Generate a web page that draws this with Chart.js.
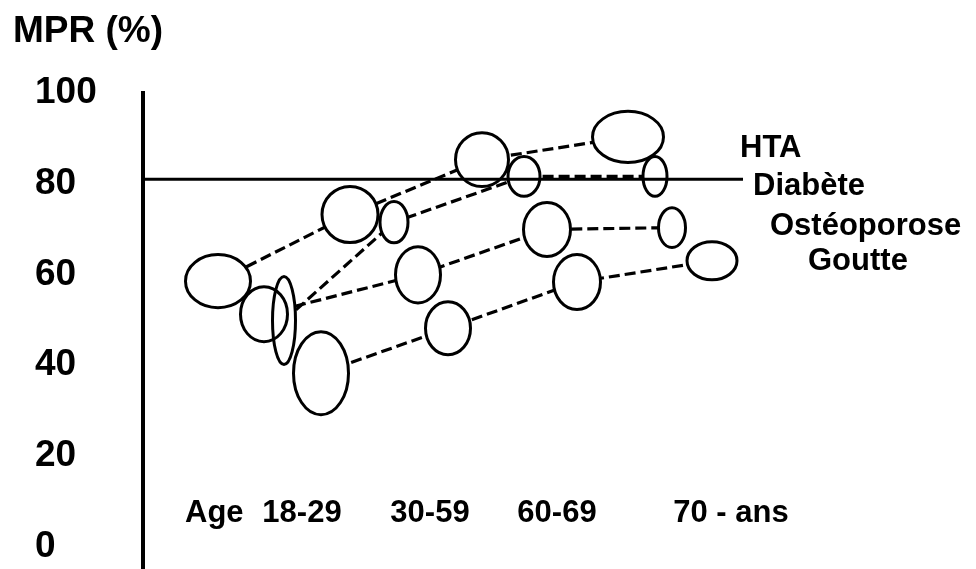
<!DOCTYPE html>
<html>
<head>
<meta charset="utf-8">
<script src="https://cdn.jsdelivr.net/npm/chart.js@4.4.1/dist/chart.umd.min.js"></script>
<style>
  html, body { margin: 0; background: #fff; }
  #wrap { width: 976px; height: 569px; }
</style>
</head>
<body>
<div id="wrap"><canvas id="c"></canvas></div>
<script>
// MPR (%) by age group, four conditions. Ellipse width/height are spreads in data units.
const SERIES = ['HTA', 'Diabète', 'Ostéoporose', 'Goutte'];
const AGE_LABELS = ['18-29', '30-59', '60-69', '70 - ans'];
const AGE_POS = [1.59, 2.87, 4.14, 5.88];
const Y_TICKS = [0, 20, 40, 60, 80, 100];
const TARGET = 81;

const HTA_X = [0.75, 2.07, 3.39, 4.85];
const HTA_Y = [58.5, 73.2, 85.3, 90.3];
const HTA_W = [0.65, 0.56, 0.53, 0.71];
const HTA_H = [11.7, 12.4, 11.9, 11.3];

const DIAB_X = [1.41, 2.51, 3.81, 5.12];
const DIAB_Y = [49.8, 71.5, 81.6, 81.6];
const DIAB_W = [0.23, 0.28, 0.32, 0.24];
const DIAB_H = [19.4, 9.1, 8.8, 8.8];

const OSTEO_X = [1.21, 2.75, 4.04, 5.29];
const OSTEO_Y = [51.2, 59.9, 69.9, 70.3];
const OSTEO_W = [0.47, 0.45, 0.47, 0.27];
const OSTEO_H = [12.1, 12.4, 11.9, 8.8];

const GOUT_X = [1.78, 3.05, 4.34, 5.69];
const GOUT_Y = [38.2, 48.1, 58.3, 63.0];
const GOUT_W = [0.55, 0.45, 0.47, 0.50];
const GOUT_H = [18.3, 11.7, 12.1, 8.4];

const FONT = "'Liberation Sans', Arial, sans-serif";

function points(xs, ys) {
  return xs.map((x, i) => ({ x, y: ys[i] }));
}

function series(label, xs, ys, w, h) {
  return {
    label,
    data: points(xs, ys),
    ellW: w,
    ellH: h,
    showLine: true,
    borderColor: '#000',
    borderWidth: 3.2,
    borderDash: [11, 5],
    pointRadius: 0,
    fill: false,
  };
}

// ellipses are hollow: white-out the dashed lines inside, then outline, then the 81% line on top
const overlay = {
  id: 'overlay',
  afterDatasetsDraw(chart) {
    const { ctx, chartArea, scales: { x, y } } = chart;
    const shapes = [];
    chart.data.datasets.forEach((ds, i) => {
      chart.getDatasetMeta(i).data.forEach((pt, j) => {
        const d = ds.data[j];
        const rx = Math.abs(x.getPixelForValue(d.x + ds.ellW[j] / 2) - pt.x);
        const ry = Math.abs(y.getPixelForValue(d.y + ds.ellH[j] / 2) - pt.y);
        shapes.push([pt.x, pt.y, rx, ry]);
      });
    });
    ctx.save();
    ctx.fillStyle = '#fff';
    shapes.forEach(([cx, cy, rx, ry]) => {
      ctx.beginPath();
      ctx.ellipse(cx, cy, rx, ry, 0, 0, Math.PI * 2);
      ctx.fill();
    });
    ctx.strokeStyle = '#000';
    ctx.lineWidth = 3;
    shapes.forEach(([cx, cy, rx, ry]) => {
      ctx.beginPath();
      ctx.ellipse(cx, cy, rx, ry, 0, 0, Math.PI * 2);
      ctx.stroke();
    });

    const yT = y.getPixelForValue(TARGET);
    ctx.beginPath();
    ctx.moveTo(chartArea.left, yT);
    ctx.lineTo(chartArea.right, yT);
    ctx.stroke();

    ctx.fillStyle = '#000';
    ctx.textBaseline = 'alphabetic';

    // series names, stepped to the right of the target line
    ctx.font = `bold 31px ${FONT}`;
    ctx.textAlign = 'left';
    const off = [[-3, -22], [10, 16], [27, 56], [65, 91]];
    SERIES.forEach((s, i) => {
      ctx.fillText(s, chartArea.right + off[i][0], yT + off[i][1]);
    });

    // age groups written inside the plot
    const base = y.getPixelForValue(5.4);
    ctx.fillText('Age', x.getPixelForValue(0.42), base);
    ctx.textAlign = 'center';
    AGE_LABELS.forEach((l, i) => ctx.fillText(l, x.getPixelForValue(AGE_POS[i]), base));

    ctx.textAlign = 'left';
    ctx.font = `bold 37px ${FONT}`;
    ctx.fillText('MPR (%)', 13, 42);
    ctx.restore();
  },
};

new Chart(document.getElementById('c'), {
  type: 'scatter',
  data: {
    datasets: [
      series(SERIES[0], HTA_X, HTA_Y, HTA_W, HTA_H),
      series(SERIES[1], DIAB_X, DIAB_Y, DIAB_W, DIAB_H),
      series(SERIES[2], OSTEO_X, OSTEO_Y, OSTEO_W, OSTEO_H),
      series(SERIES[3], GOUT_X, GOUT_Y, GOUT_W, GOUT_H),
    ],
  },
  options: {
    responsive: true,
    maintainAspectRatio: false,
    animation: false,
    layout: { padding: { left: 35, top: 93, right: 233, bottom: 0 } },
    plugins: { legend: { display: false }, tooltip: { enabled: false } },
    scales: {
      x: { type: 'linear', min: 0, max: 6, display: false },
      y: {
        min: -5,
        max: 100,
        afterBuildTicks: s => { s.ticks = Y_TICKS.map(v => ({ value: v })); },
        afterFit: s => { s.width = 108; s.paddingTop = 0; s.paddingBottom = 0; },
        grid: { display: false, drawTicks: false },
        border: { color: '#000', width: 4 },
        ticks: {
          crossAlign: 'far',
          color: '#000',
          padding: 0,
          font: { size: 37, weight: 'bold', family: FONT },
        },
      },
    },
  },
  plugins: [overlay],
});
</script>
</body>
</html>
